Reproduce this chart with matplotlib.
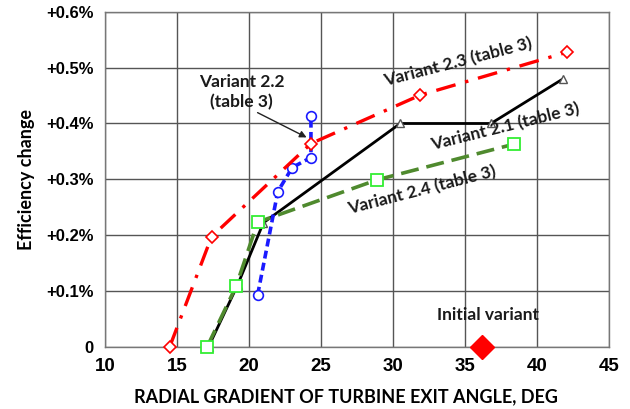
import matplotlib.pyplot as plt
from matplotlib.ticker import FixedLocator

# Efficiency change vs radial gradient of turbine exit angle
v21_x = [17.2, 19.2, 21.0, 30.5, 36.8, 41.8]
v21_y = [0.0, 0.11, 0.222, 0.40, 0.40, 0.48]

v22_x = [20.6, 22.0, 23.0, 24.3, 24.3]
v22_y = [0.093, 0.278, 0.321, 0.339, 0.414]

v23_x = [14.5, 17.4, 24.3, 31.9, 42.1]
v23_y = [0.0, 0.197, 0.364, 0.451, 0.528]

v24_x = [17.1, 19.1, 20.6, 28.9, 38.4]
v24_y = [0.0, 0.108, 0.223, 0.299, 0.363]

initial_x = [36.2]
initial_y = [0.0]

x_ticks = [10, 15, 20, 25, 30, 35, 40, 45]
y_ticks = [0.0, 0.1, 0.2, 0.3, 0.4, 0.5, 0.6]
y_tick_labels = ["0", "+0.1%", "+0.2%", "+0.3%", "+0.4%", "+0.5%", "+0.6%"]

LABEL_FONT = "Lato"
TICK_FONT = "Liberation Sans"

fig = plt.figure(figsize=(6.3, 4.09), dpi=100)
ax = fig.add_axes([0.1667, 0.1528, 0.80, 0.8179])

ax.set_xlim(10, 45)
ax.set_ylim(0, 0.6)

ax.xaxis.set_major_locator(FixedLocator(x_ticks))
ax.yaxis.set_major_locator(FixedLocator(y_ticks))
ax.set_yticklabels(y_tick_labels)
ax.grid(True, color="#555555", lw=1.0)
ax.set_axisbelow(True)
for s in ax.spines.values():
    s.set_color("#777777")
    s.set_linewidth(1.0)
ax.tick_params(length=0, pad=8)
for lbl in ax.get_xticklabels():
    lbl.set_fontfamily(TICK_FONT)
    lbl.set_fontweight("bold")
    lbl.set_fontsize(13.5)
for lbl in ax.get_yticklabels():
    lbl.set_fontfamily(TICK_FONT)
    lbl.set_fontweight("bold")
    lbl.set_fontsize(12)

ax.set_xlabel("RADIAL GRADIENT OF TURBINE EXIT ANGLE, DEG", fontfamily=LABEL_FONT,
              fontweight="bold", fontsize=13, labelpad=6)
ax.xaxis.set_label_coords(0.478, -0.125)
ax.set_ylabel("Efficiency change", fontfamily=LABEL_FONT, fontweight="bold",
              fontsize=13, labelpad=8)

# variant 2.1 - solid black
ax.plot(v21_x, v21_y, color="black", lw=2.0, marker="^", ms=6,
        mfc="white", mec="#555555", mew=1.0, zorder=3, clip_on=False)
# variant 2.4 - green dashes
ax.plot(v24_x, v24_y, color="#4f8a2e", lw=2.6, dashes=(5, 2.2), marker="s",
        ms=9, mfc="white", mec="#33ee33", mew=1.3, zorder=4, clip_on=False)
# variant 2.2 - blue short dashes
ax.plot(v22_x, v22_y, color="#1a1aff", lw=2.6, dashes=(2.2, 1.2), marker="o",
        ms=7, mfc="white", mec="#1a1aff", mew=1.2, zorder=5, clip_on=False)
# variant 2.3 - red dash-dot
ax.plot(v23_x, v23_y, color="red", lw=2.4, dashes=(6, 3, 1, 3), marker="D",
        ms=6, mfc="white", mec="red", mew=1.2, zorder=6, clip_on=False)
# initial variant
ax.plot(initial_x, initial_y, linestyle="none", marker="D", ms=12, color="red",
        zorder=7, clip_on=False)

txt = dict(fontfamily=LABEL_FONT, fontweight="bold", fontsize=12.5, color="#1a1a1a")
ax.text(36.6, 0.056, "Initial variant", ha="center", va="center", **txt)
ax.text(34.5, 0.51, "Variant 2.3 (table 3)", ha="center", va="center",
        rotation=14.5, **txt)
ax.text(37.8, 0.394, "Variant 2.1 (table 3)", ha="center", va="center",
        rotation=14, **txt)
ax.text(32.0, 0.281, "Variant 2.4 (table 3)", ha="center", va="center",
        rotation=14.5, **txt)
ax.annotate("Variant 2.2\n(table 3)", xy=(24.0, 0.375), xytext=(19.5, 0.457),
            ha="center", va="center", linespacing=1.3,
            arrowprops=dict(arrowstyle="-|>", color="#222222", lw=1.0,
                            mutation_scale=10, shrinkA=0, shrinkB=0,
                            relpos=(0.62, 0.0)),
            **txt)

fig.savefig("out.png", dpi=100)
